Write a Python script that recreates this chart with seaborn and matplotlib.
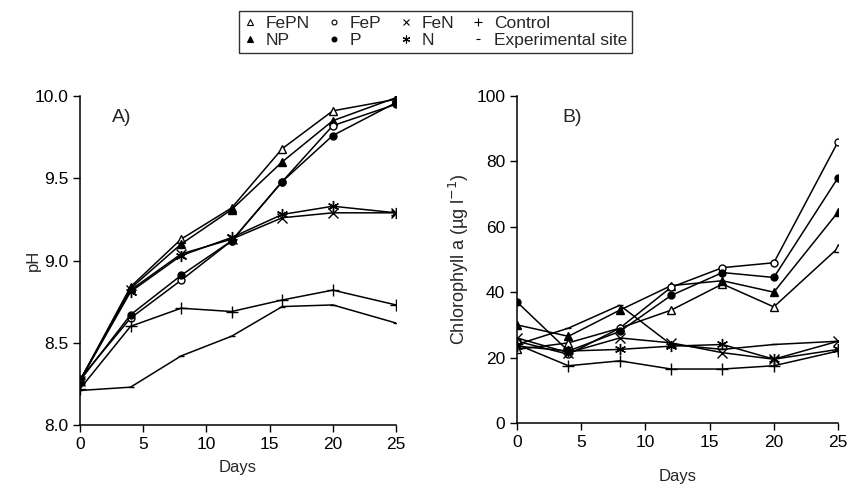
import matplotlib
matplotlib.use("Agg")
import matplotlib.pyplot as plt
import seaborn as sns
import pandas as pd

days = [0, 4, 8, 12, 16, 20, 25]

# pH (panel A)
ph_fepn = [8.27, 8.84, 9.13, 9.32, 9.68, 9.91, 9.98]
ph_np = [8.27, 8.83, 9.10, 9.31, 9.60, 9.85, 9.99]
ph_fep = [8.28, 8.65, 8.88, 9.12, 9.48, 9.82, 9.95]
ph_p = [8.27, 8.67, 8.91, 9.12, 9.48, 9.76, 9.96]
ph_fen = [8.27, 8.82, 9.04, 9.13, 9.26, 9.29, 9.29]
ph_n = [8.27, 8.81, 9.03, 9.14, 9.28, 9.33, 9.29]
ph_control = [8.22, 8.60, 8.71, 8.69, 8.76, 8.82, 8.73]
ph_site = [8.21, 8.23, 8.42, 8.54, 8.72, 8.73, 8.62]

# Chlorophyll a (panel B)
chl_fepn = [22.5, 24.5, 29.0, 34.5, 42.5, 35.5, 53.5]
chl_np = [30.0, 26.5, 34.5, 42.0, 43.5, 40.0, 64.5]
chl_fep = [25.0, 21.0, 29.0, 41.5, 47.5, 49.0, 86.0]
chl_p = [37.0, 22.0, 28.0, 39.0, 46.0, 44.5, 75.0]
chl_fen = [26.0, 21.5, 26.0, 24.5, 21.5, 19.5, 25.0]
chl_n = [23.5, 22.0, 22.5, 23.5, 24.0, 19.5, 22.5]
chl_control = [24.0, 17.5, 19.0, 16.5, 16.5, 17.5, 22.0]
chl_site = [24.0, 29.0, 36.0, 24.0, 22.5, 24.0, 25.0]

treatments = ["FePN", "NP", "FeP", "P", "FeN", "N", "Control", "Experimental site"]
ph_vals = [ph_fepn, ph_np, ph_fep, ph_p, ph_fen, ph_n, ph_control, ph_site]
chl_vals = [chl_fepn, chl_np, chl_fep, chl_p, chl_fen, chl_n, chl_control, chl_site]

rows = []
for t, pv, cv in zip(treatments, ph_vals, chl_vals):
    for d, p, c in zip(days, pv, cv):
        rows.append({"treatment": t, "day": d, "pH": p, "chl": c})
df = pd.DataFrame(rows)

# marker, facecolor, size
styles = {
    "FePN": ("^", "white", 6),
    "NP": ("^", "black", 6),
    "FeP": ("o", "white", 5),
    "P": ("o", "black", 5),
    "FeN": ("x", "black", 7),
    "N": ((6, 2, 0), "black", 8),
    "Control": ("+", "black", 8),
    "Experimental site": ("_", "black", 5),
}

sns.set_style("ticks")
plt.rcParams["font.family"] = ["Liberation Sans", "DejaVu Sans"]

fig = plt.figure(figsize=(8.62, 4.95), dpi=100)
ax1 = fig.add_axes([0.0928, 0.1414, 0.3666, 0.6646])
ax2 = fig.add_axes([0.5998, 0.1455, 0.3724, 0.6606])

for ax, col in [(ax1, "pH"), (ax2, "chl")]:
    for t in treatments:
        m, fc, ms = styles[t]
        sub = df[df["treatment"] == t]
        sns.lineplot(data=sub, x="day", y=col, ax=ax, color="black", lw=1.1,
                     marker=m, markersize=ms, markerfacecolor=fc,
                     markeredgecolor="black", markeredgewidth=1.0,
                     label=t, legend=False)

ax1.set_xlim(0, 25)
ax1.set_ylim(8.0, 10.0)
ax1.set_xticks([0, 5, 10, 15, 20, 25])
ax1.set_yticks([8.0, 8.5, 9.0, 9.5, 10.0])
ax1.set_yticklabels(["8.0", "8.5", "9.0", "9.5", "10.0"])
ax1.set_xlabel("Days", fontsize=12, labelpad=6)
ax1.set_ylabel("pH", fontsize=12)
ax1.yaxis.set_label_coords(-0.125, 0.5)
ax1.text(0.10, 0.96, "A)", transform=ax1.transAxes, fontsize=14, va="top")

ax2.set_xlim(0, 25)
ax2.set_ylim(0, 100)
ax2.set_xticks([0, 5, 10, 15, 20, 25])
ax2.set_yticks([0, 20, 40, 60, 80, 100])
ax2.set_xlabel("Days", fontsize=12, labelpad=14)
ax2.set_ylabel("Chlorophyll a (\u00b5g l$^{-1}$)", fontsize=13, labelpad=4)
ax2.text(0.14, 0.96, "B)", transform=ax2.transAxes, fontsize=14, va="top")

for ax in (ax1, ax2):
    sns.despine(ax=ax)
    ax.tick_params(direction="out", length=5, width=1, labelsize=12.5, colors="black")
    for s in ("left", "bottom"):
        ax.spines[s].set_linewidth(1.1)
        ax.spines[s].set_color("black")

handles, labels = ax1.get_legend_handles_labels()
leg_handles = []
for h in handles:
    h2 = plt.Line2D([], [], linestyle="none", marker=h.get_marker(),
                    markersize=h.get_markersize() * 0.7,
                    markerfacecolor=h.get_markerfacecolor(),
                    markeredgecolor="black", markeredgewidth=0.8)
    leg_handles.append(h2)
fig.legend(leg_handles, labels, ncol=4, loc="upper center",
           bbox_to_anchor=(0.505, 0.995), frameon=True, fancybox=False,
           edgecolor="black", fontsize=12.5, handlelength=0.8,
           handletextpad=0.5, columnspacing=1.0, labelspacing=0.15,
           borderpad=0.25)

fig.savefig("out.png", dpi=100)
